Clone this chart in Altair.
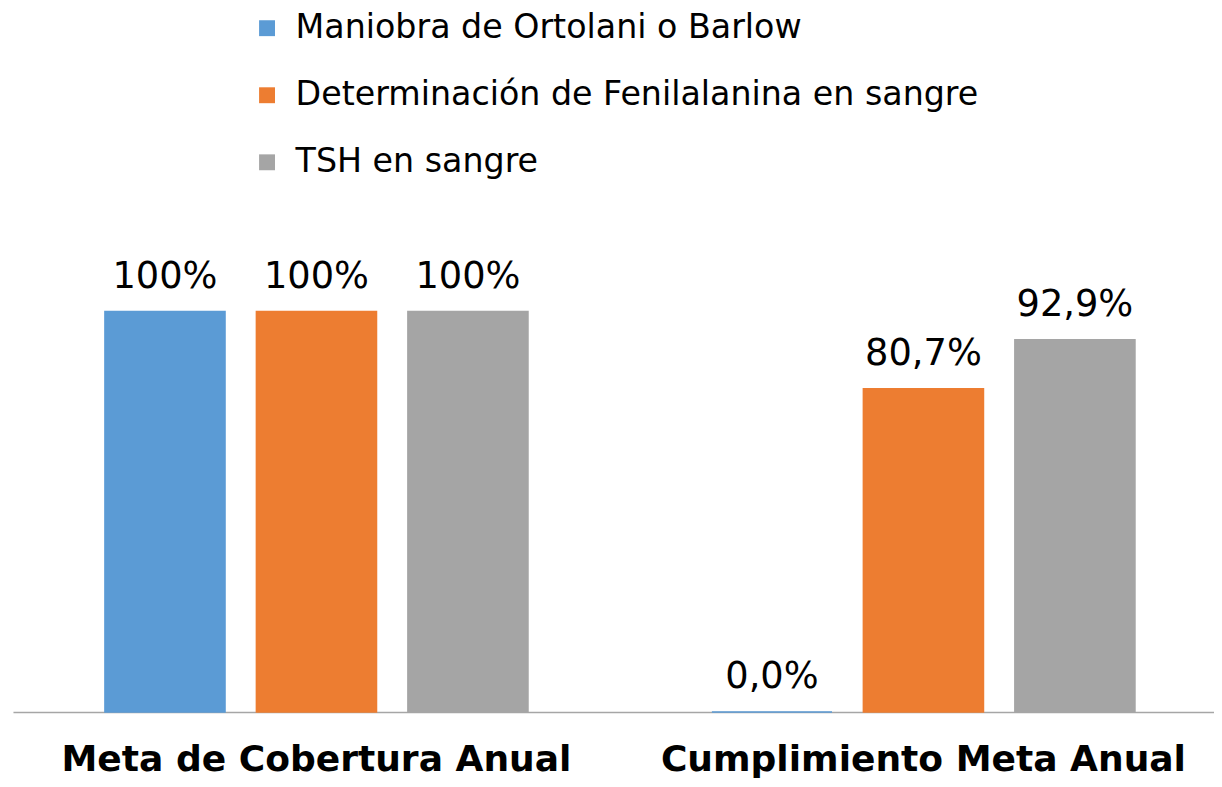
import altair as alt
import pandas as pd

categories = ["Meta de Cobertura Anual", "Cumplimiento Meta Anual"]
series = ["Maniobra de Ortolani o Barlow",
          "Determinación de Fenilalanina en sangre",
          "TSH en sangre"]
colors = ["#5B9BD5", "#ED7D31", "#A5A5A5"]
values = {
    "Maniobra de Ortolani o Barlow": [100, 0.0],
    "Determinación de Fenilalanina en sangre": [100, 80.7],
    "TSH en sangre": [100, 92.9],
}
value_labels = {
    "Maniobra de Ortolani o Barlow": ["100%", "0,0%"],
    "Determinación de Fenilalanina en sangre": ["100%", "80,7%"],
    "TSH en sangre": ["100%", "92,9%"],
}

rows = []
for s in series:
    for i, c in enumerate(categories):
        rows.append({"cat": c, "serie": s, "val": values[s][i], "lab": value_labels[s][i]})
df = pd.DataFrame(rows)

FONT = "DejaVu Sans"

x = alt.X("cat:N", sort=categories, title=None,
          scale=alt.Scale(range=[0, 1222], paddingInner=0, paddingOuter=0),
          axis=alt.Axis(labelAngle=0, labelFont=FONT, labelFontSize=36.3, labelFontWeight="bold",
                        labelColor="#000000", ticks=False, labelPadding=30, labelLimit=0,
                        domainColor="#A6A6A6", domainWidth=1.5))
xo = alt.XOffset("serie:N", sort=series,
                 scale=alt.Scale(paddingInner=0.207, paddingOuter=0.607))
y = alt.Y("val:Q", scale=alt.Scale(domain=[0, 127.5], nice=False), axis=None)
color = alt.Color("serie:N", sort=series, scale=alt.Scale(domain=series, range=colors),
                  legend=alt.Legend(title=None, orient="none", legendX=239, legendY=-191,
                                    direction="vertical", symbolType="square", symbolSize=256,
                                    symbolStrokeWidth=0, labelFont=FONT, labelFontSize=33.5,
                                    labelColor="#000000", labelOffset=12, rowPadding=32.5,
                                    padding=0, labelLimit=1000))

base = alt.Chart(df)
bars = base.mark_bar(strokeWidth=1.5).encode(
    x=x, xOffset=xo, y=y, color=color,
    stroke=alt.Stroke("serie:N", sort=series, scale=alt.Scale(domain=series, range=colors), legend=None))
texts = base.mark_text(font=FONT, fontSize=37, color="#000000", baseline="alphabetic", dy=-24).encode(
    x=x, xOffset=xo, y=y, text="lab:N")

chart = (bars + texts).properties(
    width=1209, height=514,
    autosize=alt.AutoSizeParams(type="none"),
    padding={"left": 5, "top": 192, "right": 0, "bottom": 70},
).configure(background="#FFFFFF").configure_view(stroke=None)

chart.save("out.html", embed_options={"renderer": "svg", "actions": False})
